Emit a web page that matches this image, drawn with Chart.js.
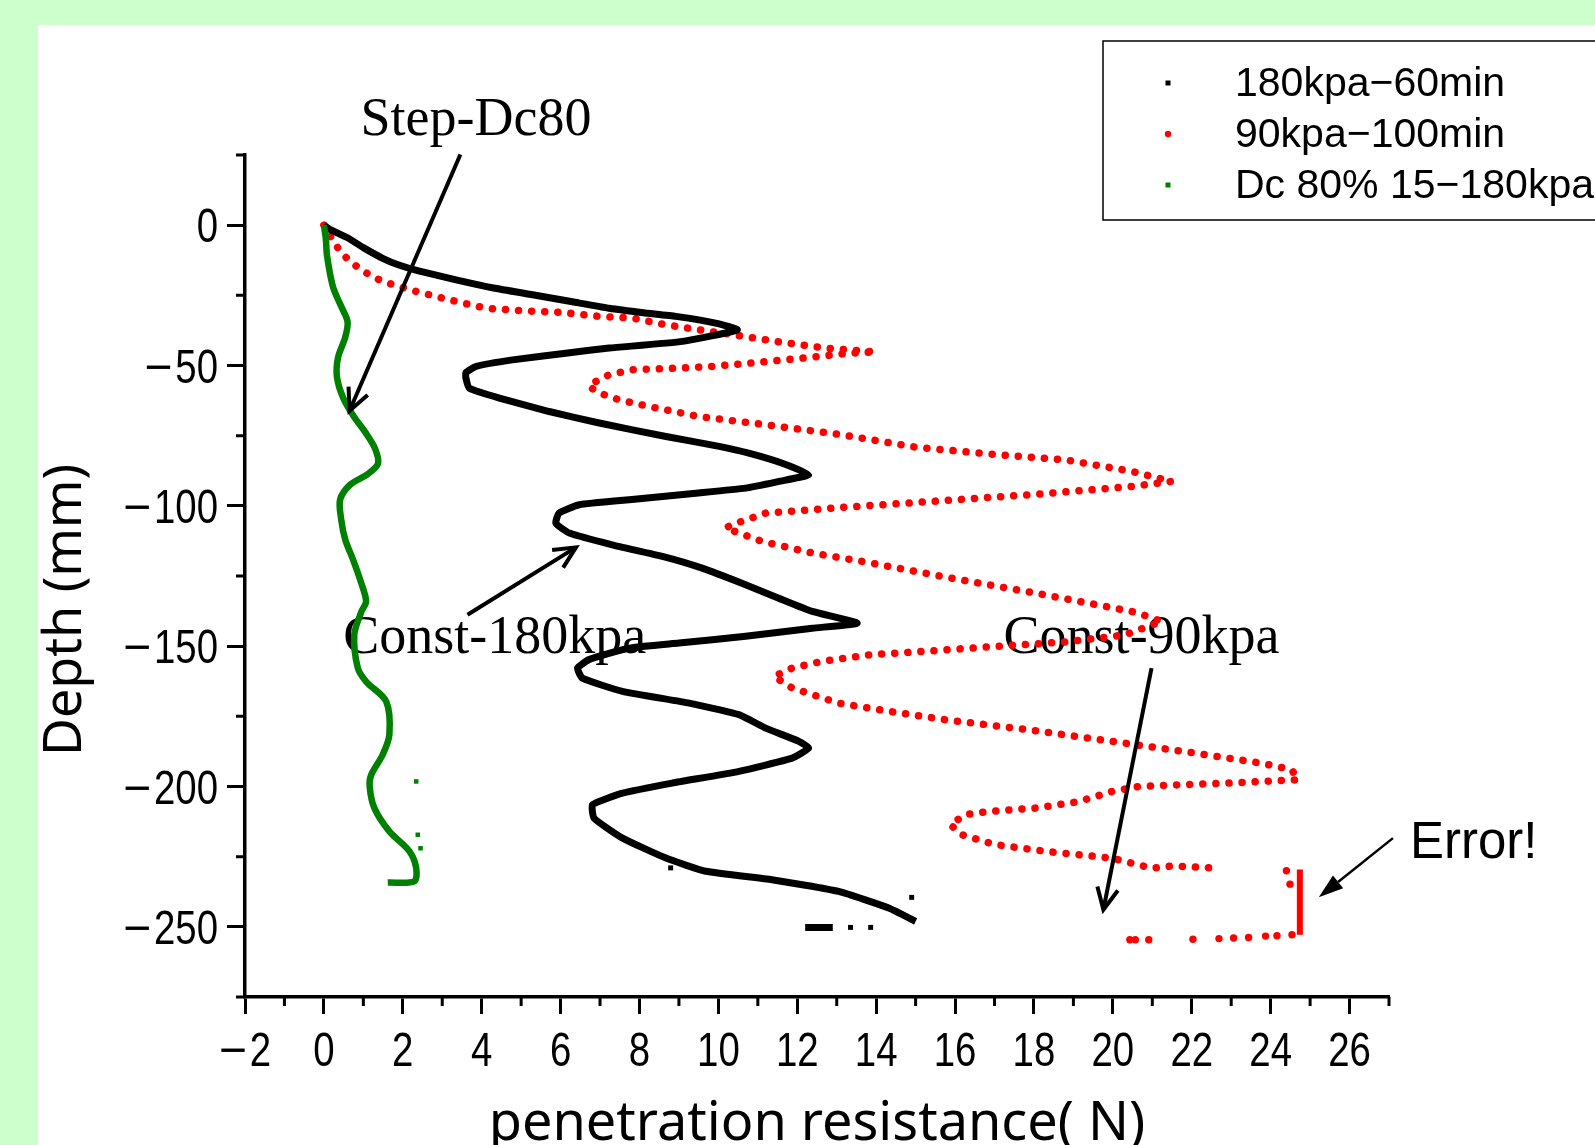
<!DOCTYPE html>
<html>
<head>
<meta charset="utf-8">
<script src="https://cdn.jsdelivr.net/npm/chart.js@4.4.1/dist/chart.umd.min.js"></script>
<style>
  html, body { margin: 0; padding: 0; background: #ccffcc; }
  canvas { display: block; }
</style>
</head>
<body>
<canvas id="grafica" width="1595" height="1145"></canvas>
<script>
// === Datos (x = resistencia N, y = profundidad mm) ===
// null separa tramos que no van unidos
const negroX = [0, 0.15, 0.6, 1.0, 1.49, 1.9, 2.4, 3.35, 4.3, 5.29, 6.3, 7.23, 8.1, 8.92, 9.93, 10.48,
  9.09, 7.23, 6.13, 4.78, 3.86, 3.6, 3.6, 3.69, 4.45, 5.71, 6.98, 8.67, 10.02, 10.77, 11.62, 12.29,
  11.53, 10.69, 9.43, 7.74, 6.47, 5.96, 5.88, 6.22, 7.31, 8.58, 9.59, 10.69, 11.53, 12.38, 13.52,
  12.38, 10.69, 9.0, 7.74, 6.72, 6.43, 6.55, 7.57, 9.26, 10.52, 11.2, 12.04, 12.29,
  11.87, 10.52, 8.83, 7.57, 6.81, 6.85, 7.57, 8.67, 9.68, 11.36, 13.05, 14.32, 15.0,
  null, 12.2, 12.9];
const negroY = [0, -1.5, -4.5, -8, -11.8, -14.2, -16.3, -19.5, -22.4, -24.8, -27.3, -29.6, -31.2, -32.5, -34.9, -37.3,
  -41.4, -43.8, -45.6, -48, -50.3, -52.5, -54.5, -58.1, -61.6, -66.4, -70.5, -75.3, -78.8, -81.2, -84.8, -88.9,
  -91.3, -93.7, -95.5, -97.8, -99.6, -102.6, -106.2, -109.7, -113.9, -118, -122.2, -128.1, -132.9, -137.6, -141.8,
  -143.6, -146.5, -148.9, -150.7, -154.8, -157.8, -161.4, -166.1, -170.3, -174.4, -179.2, -183.9, -186.3,
  -189.9, -194.6, -198.8, -202.4, -206.5, -211.3, -218.4, -225.5, -230.2, -233.2, -237.4, -243.3, -248.1,
  null, -250.2, -250.2];
const negroSueltosX = [13.35, 13.86, 14.9, 8.79];
const negroSueltosY = [-250.2, -250.2, -239.5, -229];

const rojoX = [0, 0.14, 0.35, 0.65, 1.05, 1.49, 2.34, 3.18, 4.11, 5.04, 6.05, 6.98, 7.82, 8.67, 9.51,
  10.35, 11.45, 12.72, 13.98, 13.31, 12.04, 10.77, 9.85, 9.09, 7.82, 7.23, 6.81, 6.72, 6.98, 7.48, 8.24,
  9.51, 11.2, 13.14, 15.0, 17.1, 18.79, 20.48, 21.49, 20.48, 17.95, 15.42, 12.88, 11.2, 10.35, 10.18,
  11.11, 12.38, 13.64, 16.0, 18.0, 19.5, 20.6, 21.24, 20.3, 18.8, 17.02, 15.16, 13.9, 12.63, 11.87, 11.41,
  11.87, 13.05, 14.32, 15.75, 17.86, 19.97, 22.08, 23.77, 24.53, 24.7, 23.77, 22.93, 21.66, 20.65, 19.97,
  19.13, 18.03, 16.85, 16.26, 15.88, 16.17, 17.02, 18.29, 19.97, 20.99, 21.49, 22.67];
const rojoY = [0, -3.4, -8, -12.9, -16.8, -20.1, -23.6, -26.6, -29.6, -30.5, -31.1, -32.5, -33.1, -35.5, -37.3,
  -39, -41.4, -43.8, -45.2, -45.6, -47.5, -49.2, -50.3, -50.9, -51.5, -53.3, -56.3, -57.5, -59.8, -62.2, -64.6,
  -68.2, -71.1, -74.7, -79.1, -81.8, -83.6, -87.7, -91.3, -93.1, -96, -98.4, -100.8, -102.6, -106.7, -107.9,
  -112.7, -116.8, -119.8, -126, -131, -135, -138, -141.2, -146, -148.5, -150.1, -151.9, -153, -155.4, -157.8, -160.8,
  -164.9, -170.3, -173.2, -176.2, -179.8, -183.9, -188.1, -191.7, -194, -197.6, -198.2, -198.8, -199.4, -200, -201.8,
  -205.4, -207.7, -208.9, -210, -213.6, -217.2, -220.7, -223.1, -225.5, -229.1, -228.3, -229.1];
const rojoErrorX = [24.74, 24.74];
const rojoErrorY = [-229.6, -252.8];
const rojoSueltosX = [24.4, 24.49, 20.43, 20.57, 20.91, 22.03, 22.69, 23.06, 23.44, 23.87, 24.16, 24.54];
const rojoSueltosY = [-230, -234.8, -254.6, -254.6, -254.6, -254.4, -254.2, -254, -253.8, -253.3, -253.2, -252.8];

const verdeX = [0, 0.05, 0.08, 0.23, 0.44, 0.6, 0.54, 0.36, 0.33, 0.49, 0.75, 1.06, 1.3, 1.37, 1.1, 0.67,
  0.41, 0.44, 0.54, 0.75, 0.93, 1.07, 0.95, 0.77, 0.86, 1.07, 1.58, 1.66, 1.49, 1.2, 1.16, 1.28, 1.66,
  2.17, 2.34, 2.29, 1.62];
const verdeY = [0, -5, -11, -22, -29, -34.4, -40, -47, -54, -61.6, -68, -74, -79.7, -85, -88.8, -92.4,
  -97.8, -105, -112, -119.6, -126.8, -134, -137.7, -145.9, -157.8, -162.6, -169.7, -181.5, -188.7, -195.8, -200, -207.7, -216,
  -223.1, -229.1, -233.8, -234.2];
const verdeSueltosX = [2.34, 2.38, 2.45];
const verdeSueltosY = [-198.2, -217.2, -222];

const etiquetas = ["180kpa\u221260min", "90kpa\u2212100min", "Dc 80% 15\u2212180kpa"];

// Ejes
const xTicks = [-2, 0, 2, 4, 6, 8, 10, 12, 14, 16, 18, 20, 22, 24, 26];
const xMenores = [-1, 1, 3, 5, 7, 9, 11, 13, 15, 17, 19, 21, 23, 25, 27];
const yTicks = [-250, -200, -150, -100, -50, 0];
const yMenores = [-275, -225, -175, -125, -75, -25, 25];

// Anotaciones (posición en unidades de los ejes)
const notaTextos = ["Step-Dc80", "Const-180kpa", "Const-90kpa", "Error!"];
const notaX = [0.93, 0.49, 17.23, 27.53];
const notaY = [32.3, -152.5, -152.5, -225.6];
const flechaX0 = [3.46, 3.64, 20.98, 27.1];
const flechaY0 = [25.2, -138.8, -157.8, -218.4];
const flechaX1 = [0.65, 6.39, 19.76, 25.22];
const flechaY1 = [-66.1, -114.8, -243.9, -239.5];

const puntos = (xs, ys) => xs.map((x, i) => ({ x: x, y: ys[i] }));

const FUENTE_SANS = "'Noto Sans', 'Liberation Sans', sans-serif";

// fondo verde con el panel blanco
const fondo = {
  id: "fondo",
  beforeDraw(chart) {
    const c = chart.ctx;
    c.save();
    c.fillStyle = "#ccffcc";
    c.fillRect(0, 0, chart.width, chart.height);
    c.fillStyle = "#ffffff";
    c.fillRect(38, 25, chart.width - 38, chart.height - 25);
    c.restore();
  }
};

function flecha(c, x0, y0, x1, y1, relleno) {
  const ang = Math.atan2(y1 - y0, x1 - x0);
  const largo = relleno ? 26 : 24;
  const abre = relleno ? 0.32 : 0.45;
  const ax = x1 - largo * Math.cos(ang - abre), ay = y1 - largo * Math.sin(ang - abre);
  const bx = x1 - largo * Math.cos(ang + abre), by = y1 - largo * Math.sin(ang + abre);
  c.beginPath();
  c.moveTo(x0, y0);
  c.lineTo(relleno ? (ax + bx) / 2 : x1, relleno ? (ay + by) / 2 : y1);
  c.stroke();
  c.beginPath();
  c.moveTo(ax, ay);
  c.lineTo(x1, y1);
  c.lineTo(bx, by);
  if (relleno) { c.closePath(); c.fill(); } else { c.stroke(); }
}

// etiqueta de marca: cifras angostas y signo menos ancho, como en el original
function etiquetaMarca(c, v, x, y, alinear) {
  const k = 0.8, hueco = 3;
  const cifras = String(Math.abs(v));
  const wc = c.measureText(cifras).width * k;
  const wm = v < 0 ? c.measureText("\u2212").width + hueco : 0;
  const inicio = alinear === "right" ? x - wc - wm : x - (wc + wm) / 2;
  c.save();
  c.textAlign = "left";
  if (v < 0) c.fillText("\u2212", inicio, y);
  c.translate(inicio + wm, y);
  c.scale(k, 1);
  c.fillText(cifras, 0, 0);
  c.restore();
}

const extras = {
  id: "extras",
  beforeDatasetsDraw(chart) {
    const c = chart.ctx, sx = chart.scales.x, sy = chart.scales.y;
    c.save();
    c.fillStyle = "#000";
    c.textBaseline = "alphabetic";
    c.textAlign = "left";
    notaTextos.forEach((t, i) => {
      c.font = i === 3 ? "51px 'Liberation Sans', sans-serif" : "54px 'Liberation Serif', serif";
      c.fillText(t, sx.getPixelForValue(notaX[i]), sy.getPixelForValue(notaY[i]));
    });
    c.restore();
  },
  afterDraw(chart) {
    const c = chart.ctx, sx = chart.scales.x, sy = chart.scales.y;
    const area = chart.chartArea;
    c.save();
    // flechas
    c.strokeStyle = "#000";
    c.fillStyle = "#000";
    c.lineCap = "butt";
    flechaX0.forEach((v, i) => {
      c.lineWidth = i === 3 ? 2.5 : 4;
      flecha(c, sx.getPixelForValue(v), sy.getPixelForValue(flechaY0[i]),
        sx.getPixelForValue(flechaX1[i]), sy.getPixelForValue(flechaY1[i]), i === 3);
    });
    // marcas menores
    c.lineWidth = 3;
    c.beginPath();
    xMenores.forEach(v => {
      const px = sx.getPixelForValue(v);
      c.moveTo(px, area.bottom);
      c.lineTo(px, area.bottom + 9);
    });
    yMenores.forEach(v => {
      const py = sy.getPixelForValue(v);
      c.moveTo(area.left, py);
      c.lineTo(area.left - 9, py);
    });
    c.stroke();
    // etiquetas de las marcas, tomadas de las escalas
    c.font = "48px 'Liberation Sans', sans-serif";
    c.textBaseline = "alphabetic";
    sx.ticks.forEach(t => etiquetaMarca(c, t.value, sx.getPixelForValue(t.value), area.bottom + 69, "center"));
    sy.ticks.forEach(t => etiquetaMarca(c, t.value, area.left - 27, sy.getPixelForValue(t.value) + 17, "right"));
    // títulos de ejes
    c.fillStyle = "#000";
    c.font = "54px " + FUENTE_SANS;
    c.textAlign = "center";
    c.textBaseline = "alphabetic";
    c.fillText("penetration resistance( N)", (area.left + area.right) / 2, 1140);
    c.save();
    c.translate(81, 610);
    c.rotate(-Math.PI / 2);
    c.font = "52px " + FUENTE_SANS;
    c.fillText("Depth (mm)", 0, 0);
    c.restore();
    // leyenda
    c.lineWidth = 1.5;
    c.strokeRect(1103, 41, 600, 179);
    c.font = "41px 'Liberation Sans', sans-serif";
    c.textAlign = "left";
    c.textBaseline = "middle";
    const filas = [83, 134, 185];
    const colores = ["#000000", "#ff0000", "#008000"];
    etiquetas.forEach((t, i) => {
      c.fillStyle = colores[i];
      if (i === 1) {
        c.beginPath();
        c.arc(1168, filas[i], 3.2, 0, Math.PI * 2);
        c.fill();
      } else {
        c.fillRect(1165.5, filas[i] - 2.5, 5, 5);
      }
      c.fillStyle = "#000";
      c.fillText(t, 1235, filas[i] + 2);
    });
    c.restore();
  }
};

const ctx = document.getElementById("grafica");

new Chart(ctx, {
  type: "scatter",
  data: {
    datasets: [
      {
        label: etiquetas[2],
        data: puntos(verdeX, verdeY),
        showLine: true,
        tension: 0.3,
        borderColor: "#008000",
        borderWidth: 6.5,
        borderJoinStyle: "round",
        pointRadius: 0
      },
      {
        label: "verde sueltos",
        data: puntos(verdeSueltosX, verdeSueltosY),
        backgroundColor: "#008000",
        pointStyle: "rect",
        pointRadius: 3.2,
        borderWidth: 0
      },
      {
        label: etiquetas[0],
        data: puntos(negroX, negroY),
        showLine: true,
        spanGaps: false,
        tension: 0.15,
        borderColor: "#000000",
        borderWidth: 7,
        borderCapStyle: "butt",
        borderJoinStyle: "round",
        pointRadius: 0
      },
      {
        label: "negro sueltos",
        data: puntos(negroSueltosX, negroSueltosY),
        backgroundColor: "#000000",
        pointStyle: "rect",
        pointRadius: 3.5,
        borderWidth: 0
      },
      {
        label: etiquetas[1],
        data: puntos(rojoX, rojoY),
        showLine: true,
        borderColor: "#ff0000",
        borderWidth: 7.5,
        borderDash: [0.1, 13],
        borderCapStyle: "round",
        pointRadius: 0
      },
      {
        label: "error",
        data: puntos(rojoErrorX, rojoErrorY),
        showLine: true,
        borderColor: "#ff0000",
        borderWidth: 6,
        pointRadius: 0
      },
      {
        label: "rojo sueltos",
        data: puntos(rojoSueltosX, rojoSueltosY),
        backgroundColor: "#ff0000",
        pointRadius: 3.7,
        borderWidth: 0
      }
    ]
  },
  options: {
    responsive: false,
    animation: false,
    devicePixelRatio: 1,
    layout: { padding: { left: 0, top: 155, right: 206, bottom: 0 } },
    plugins: {
      legend: { display: false },
      tooltip: { enabled: false }
    },
    scales: {
      x: {
        type: "linear",
        min: -2,
        max: 27,
        afterFit: s => { s.height = 148; },
        afterBuildTicks: s => { s.ticks = xTicks.map(v => ({ value: v })); },
        border: { display: true, color: "#000", width: 3.5 },
        grid: { drawOnChartArea: false, drawTicks: true, tickLength: 17, tickWidth: 3, tickColor: "#000" },
        ticks: { display: false }
      },
      y: {
        type: "linear",
        min: -275,
        max: 25,
        afterFit: s => { s.width = 245; },
        afterBuildTicks: s => { s.ticks = yTicks.map(v => ({ value: v })); },
        border: { display: true, color: "#000", width: 3.5 },
        grid: { drawOnChartArea: false, drawTicks: true, tickLength: 18, tickWidth: 3, tickColor: "#000" },
        ticks: { display: false }
      }
    }
  },
  plugins: [fondo, extras]
});
</script>
</body>
</html>
